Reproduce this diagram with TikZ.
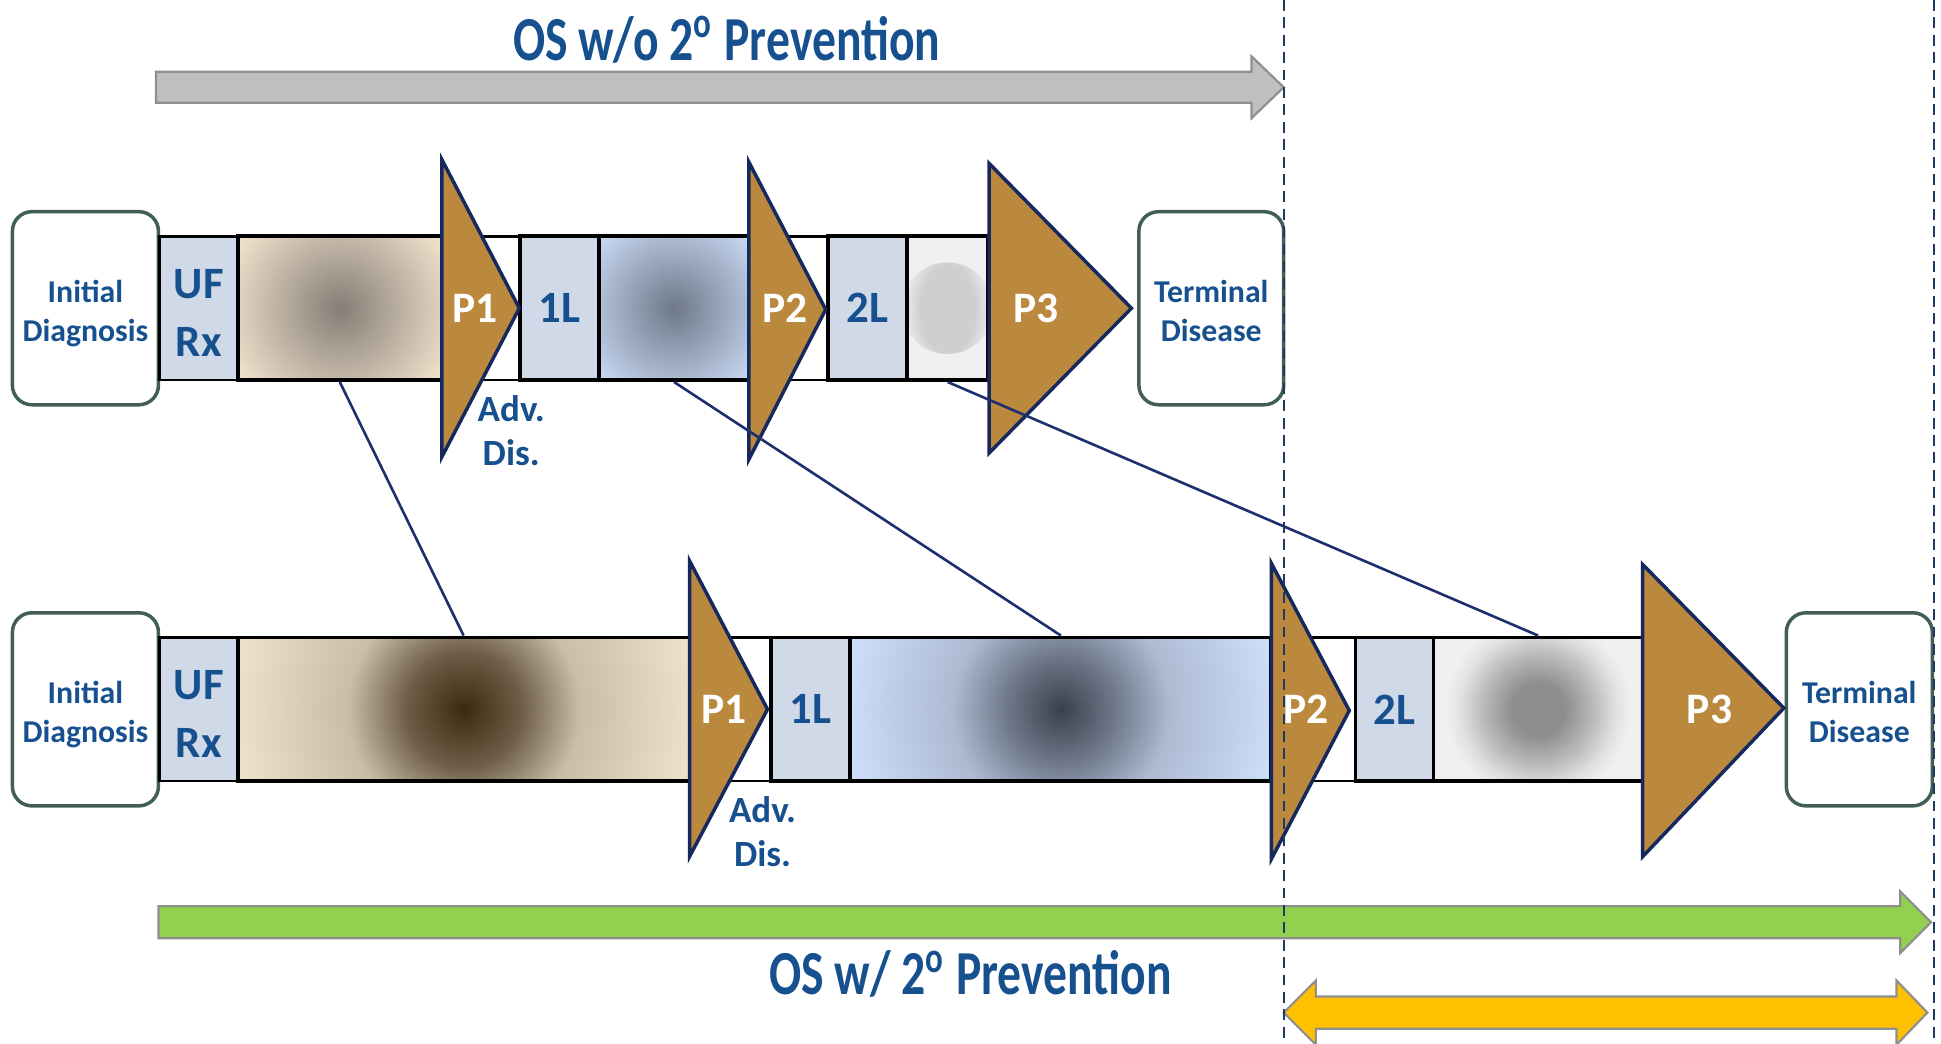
\documentclass[tikz,border=0pt]{standalone}
\usepackage{fontspec}
\setmainfont{Carlito}
\newfontfamily\titlefont[FakeStretch=0.76]{Carlito}

\definecolor{txtblue}{HTML}{17508F}
\definecolor{edgegreen}{HTML}{415F55}
\definecolor{lineblue}{HTML}{CFD9E7}
\definecolor{phasebrown}{HTML}{BA893D}
\definecolor{phaseedge}{HTML}{16295E}
\definecolor{linknavy}{HTML}{1F2F6E}
\definecolor{guidenavy}{HTML}{203864}
\definecolor{tanout}{HTML}{EEDFCA}
\definecolor{tanlight}{HTML}{C9BCA9}
\definecolor{tanmid}{HTML}{6E5E48}
\definecolor{tanin}{HTML}{857E76}
\definecolor{tandark}{HTML}{3A2A0E}
\definecolor{skyout}{HTML}{CBDCF7}
\definecolor{skylight}{HTML}{ADBAD2}
\definecolor{skymid}{HTML}{6F798A}
\definecolor{skyin}{HTML}{6E7888}
\definecolor{skydark}{HTML}{3A404C}
\definecolor{boxgray}{HTML}{F0F0F0}
\definecolor{bloblight}{HTML}{CFCFCF}
\definecolor{blobdark}{HTML}{8E8E8E}
\definecolor{blobmid}{HTML}{BBBBBB}
\definecolor{blobpale}{HTML}{E0E0E0}
\definecolor{osgray}{HTML}{BFBFBF}
\definecolor{osgreen}{HTML}{92D050}
\definecolor{osyellow}{HTML}{FFC000}
\definecolor{arrowedge}{HTML}{8F8F8F}

\pgfdeclareradialshading{blobtop}{\pgfpoint{0bp}{0bp}}{color(0bp)=(bloblight); color(15bp)=(bloblight); color(25bp)=(boxgray); color(50bp)=(boxgray)}
\pgfdeclareradialshading{blobbot}{\pgfpoint{0bp}{0bp}}{color(0bp)=(blobdark); color(4.3bp)=(blobdark); color(9bp)=(blobmid); color(12.5bp)=(blobpale); color(15bp)=(boxgray); color(50bp)=(boxgray)}
\pgfdeclareradialshading{browndeep}{\pgfpoint{0bp}{0bp}}{color(0bp)=(tandark); color(6.4bp)=(tanmid); color(12.8bp)=(tanlight); color(25bp)=(tanout); color(50bp)=(tanout)}
\pgfdeclareradialshading{bluedeep}{\pgfpoint{0bp}{0bp}}{color(0bp)=(skydark); color(6.5bp)=(skymid); color(12.9bp)=(skylight); color(25bp)=(skyout); color(50bp)=(skyout)}

\begin{document}
\begin{tikzpicture}[
    endbox/.style={rectangle, rounded corners=4.5pt, draw=edgegreen, line width=0.8pt, fill=white, minimum width=1.18cm, minimum height=1.56cm, align=center, inner sep=0pt, text height=0.58cm, text depth=0.05cm, text=txtblue, font=\fontsize{7.3}{8.8}\selectfont\bfseries},
    linebox/.style={rectangle, draw=black, line width=0.9pt, fill=lineblue, minimum height=1.16cm, inner sep=0pt, align=center, text=txtblue, font=\fontsize{10.3}{13.3}\selectfont\bfseries},
    shadebox/.style={rectangle, draw=black, line width=0.9pt, minimum height=1.16cm, inner sep=0pt},
    glow/.style n args={3}{fill=#1, path picture={\shade[inner color=#2, outer color=#1] (path picture bounding box.center) circle (#3);}},
    spot/.style n args={3}{fill=#1, path picture={\shade[shading=#2] (path picture bounding box.center) circle (#3);}},
    strip/.style={draw=black, line width=0.6pt, fill=white},
    phase/.style={draw=phaseedge, line width=0.8pt, fill=phasebrown},
    plabel/.style={text=white, font=\fontsize{10}{12}\selectfont\bfseries},
    advlabel/.style={text=txtblue, align=center, font=\fontsize{8.5}{10.1}\selectfont\bfseries},
    title/.style={text=txtblue, font=\titlefont\fontsize{14.4}{17}\selectfont\bfseries},
    osarrow/.style={draw=arrowedge, line width=0.5pt, fill=#1},
    link/.style={draw=linknavy, line width=0.6pt},
    guide/.style={draw=guidenavy, line width=0.5pt, dash pattern=on 2.5pt off 1.5pt}
]
\useasboundingbox (0,0) rectangle (15.68,-8.43);

% OS arrows
\node[title] (oswo) at (5.87,-0.32) {OS w/o 2\textsuperscript{o} Prevention};
\draw[osarrow=osgray] (1.26,-0.58) -- (10.11,-0.58) -- (10.11,-0.455) -- (10.37,-0.705) -- (10.11,-0.955) -- (10.11,-0.83) -- (1.26,-0.83) -- cycle;
\draw[osarrow=osgreen] (1.28,-7.32) -- (15.35,-7.32) -- (15.35,-7.20) -- (15.60,-7.45) -- (15.35,-7.70) -- (15.35,-7.58) -- (1.28,-7.58) -- cycle;
\node[title] (osw) at (7.84,-7.87) {OS w/ 2\textsuperscript{o} Prevention};
\draw[osarrow=osyellow] (10.37,-8.18) -- (10.63,-7.92) -- (10.63,-8.05) -- (15.32,-8.05) -- (15.32,-7.92) -- (15.57,-8.18) -- (15.32,-8.44) -- (15.32,-8.31) -- (10.63,-8.31) -- (10.63,-8.44) -- cycle;

% Row without prevention
\draw[strip] (1.29,-1.91) rectangle (7.99,-3.07);
\node[endbox] (diagA) at (0.69,-2.49) {Initial\\Diagnosis};
\node[linebox, line width=0.6pt, minimum width=0.63cm, text height=0.78cm, text depth=0pt] (ufA) at (1.605,-2.49) {UF\\Rx};
\node[shadebox, minimum width=1.65cm, glow={tanout}{tanin}{0.95cm}] (bA) at (2.745,-2.49) {};
\node[linebox, minimum width=0.64cm] (lA) at (4.52,-2.49) {1L};
\node[shadebox, minimum width=1.21cm, glow={skyout}{skyin}{0.85cm}] (blA) at (5.445,-2.49) {};
\node[linebox, minimum width=0.64cm] (llA) at (7.01,-2.49) {2L};
\node[shadebox, minimum width=0.65cm, spot={boxgray}{blobtop}{0.37cm}] (gA) at (7.655,-2.49) {};
\node[endbox, minimum width=1.17cm] (termA) at (9.785,-2.49) {Terminal\\Disease};

\draw[phase] (3.57,-1.29) -- (4.195,-2.49) -- (3.57,-3.69) -- cycle;
\draw[phase] (6.05,-1.31) -- (6.67,-2.50) -- (6.05,-3.71) -- cycle;
\draw[phase] (7.99,-1.32) -- (9.14,-2.49) -- (7.99,-3.66) -- cycle;
\node[plabel] (p1A) at (3.84,-2.49) {P1};
\node[plabel] (p2A) at (6.34,-2.49) {P2};
\node[plabel] (p3A) at (8.37,-2.49) {P3};
\node[advlabel] (advA) at (4.13,-3.48) {Adv.\\Dis.};

% Row with prevention
\draw[strip] (1.29,-5.15) rectangle (13.27,-6.31);
\node[endbox] (diagB) at (0.69,-5.73) {Initial\\Diagnosis};
\node[linebox, line width=0.6pt, minimum width=0.63cm, text height=0.78cm, text depth=0pt] (ufB) at (1.605,-5.73) {UF\\Rx};
\node[shadebox, minimum width=3.65cm, spot={tanout}{browndeep}{1.82cm}] (bB) at (3.745,-5.73) {};
\node[linebox, minimum width=0.64cm] (lB) at (6.55,-5.73) {1L};
\node[shadebox, minimum width=3.40cm, spot={skyout}{bluedeep}{1.70cm}] (blB) at (8.57,-5.73) {};
\node[linebox, minimum width=0.63cm] (llB) at (11.265,-5.73) {2L};
\node[shadebox, minimum width=1.69cm, spot={boxgray}{blobbot}{1.25cm}] (gB) at (12.425,-5.73) {};
\node[endbox] (termB) at (15.02,-5.73) {Terminal\\Disease};

\draw[phase] (5.57,-4.53) -- (6.20,-5.73) -- (5.57,-6.92) -- cycle;
\draw[phase] (10.27,-4.55) -- (10.90,-5.74) -- (10.27,-6.94) -- cycle;
\draw[phase] (13.27,-4.56) -- (14.41,-5.72) -- (13.27,-6.92) -- cycle;
\node[plabel] (p1B) at (5.85,-5.73) {P1};
\node[plabel] (p2B) at (10.55,-5.73) {P2};
\node[plabel] (p3B) at (13.81,-5.73) {P3};
\node[advlabel] (advB) at (6.16,-6.72) {Adv.\\Dis.};

% Links between rows
\draw[link] (bA.south) -- (bB.north);
\draw[link] (blA.south) -- (blB.north);
\draw[link] (gA.south) -- (gB.north);

% Guides
\draw[guide] (10.37,0) -- (10.37,-8.43);
\draw[guide] (15.62,0) -- (15.62,-8.43);
\end{tikzpicture}
\end{document}
